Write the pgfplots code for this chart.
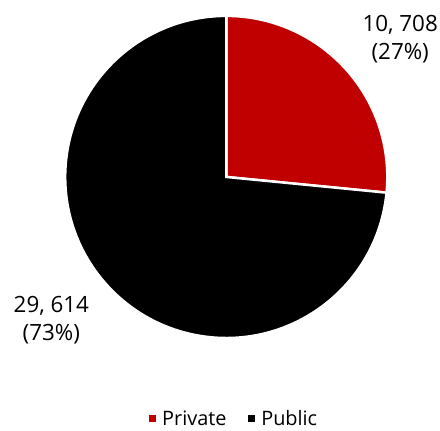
\documentclass[border=0pt]{standalone}
\usepackage{pgfplots}
\pgfplotsset{compat=1.18}
\usepackage{fontspec}
\setmainfont{Open Sans}
\definecolor{privred}{HTML}{C00000}

% slice values
\def\vpriv{10708}
\def\vpub{29614}

\begin{document}
\edef\angend{\fpeval{90-360*\vpriv/(\vpriv+\vpub)}}
\begin{tikzpicture}
\begin{axis}[
    width=440pt, height=433pt,
    scale only axis,
    xmin=0, xmax=440,
    ymin=0, ymax=433,
    hide axis,
    clip=false,
    font=\fontsize{22.5}{28}\selectfont,
    legend columns=2,
    legend style={draw=none, fill=none, at={(axis cs:233,12)}, anchor=center,
        inner sep=0pt,
        /tikz/every even column/.append style={column sep=20pt},
        /tikz/every odd column/.append style={column sep=0pt},
        font=\fontsize{20}{24}\selectfont},
    legend image code/.code={
        \fill[#1, draw=none] (0pt,-3.5pt) rectangle (7pt,3.5pt);
        \path[draw=none, fill=none] (0pt,0pt) -- (11pt,0pt);},
]
% private slice
\fill[privred, draw=white, line width=2.5pt]
    (axis cs:225,255) -- ++(90:162pt)
    arc[start angle=90, end angle=\angend, radius=162pt] -- cycle;
% public slice
\fill[black, draw=white, line width=2.5pt]
    (axis cs:225,255) -- ++(\angend:162pt)
    arc[start angle=\angend, end angle=-270, radius=162pt] -- cycle;

\addlegendimage{privred}
\addlegendentry{Private}
\addlegendimage{black}
\addlegendentry{Public}

\node[align=center, anchor=north east, inner sep=0pt] at (axis cs:438,418)
    {10, 708\\(27\%)};
\node[align=center, anchor=north west, inner sep=0pt] at (axis cs:11,135)
    {29, 614\\(73\%)};
\end{axis}
\pgfresetboundingbox
\path[use as bounding box] (current axis.south west) rectangle (current axis.north east);
\end{tikzpicture}
\end{document}
